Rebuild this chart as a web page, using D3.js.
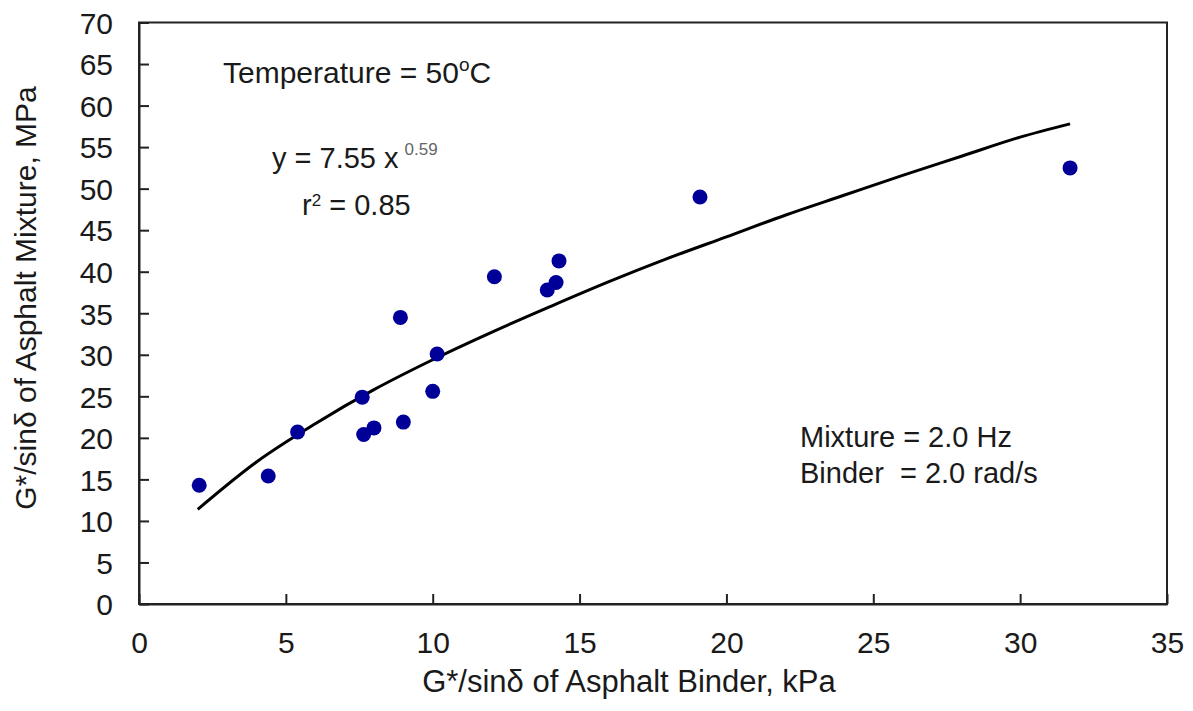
<!DOCTYPE html>
<html>
<head>
<meta charset="utf-8">
<script src="https://cdn.jsdelivr.net/npm/d3@7"></script>
<style>
  body { margin: 0; background: #fff; }
  svg text { font-family: "Liberation Sans", Arial, sans-serif; fill: #1a1a1a; }
</style>
</head>
<body>
<svg id="chart" width="1193" height="711"></svg>
<script>
var binder = [2.05, 4.4, 5.4, 7.6, 7.65, 8.0, 8.9, 9.0, 10.0, 10.15, 12.1, 13.9, 14.2, 14.3, 19.1, 31.7];
var mixture = [14.3, 15.4, 20.7, 24.9, 20.4, 21.2, 34.5, 21.9, 25.6, 30.1, 39.4, 37.8, 38.7, 41.3, 49.0, 52.5];

// power trend line y = 7.55 x^0.59
var fitX = [2, 4, 6, 8, 10, 12, 14, 16, 18, 20, 22, 24, 26, 28, 30, 31.7];
var fitY = [11.4, 17.1, 21.7, 25.8, 29.4, 32.7, 35.8, 38.8, 41.6, 44.2, 46.8, 49.2, 51.6, 53.9, 56.2, 57.8];

var xTicks = [0, 5, 10, 15, 20, 25, 30, 35];
var yTicks = [0, 5, 10, 15, 20, 25, 30, 35, 40, 45, 50, 55, 60, 65, 70];

var svg = d3.select("#chart");
var plotLeft = 139, plotRight = 1167, plotTop = 22.5, plotBottom = 604;

var x = d3.scaleLinear().domain([0, 35]).range([plotLeft, plotRight]);
var y = d3.scaleLinear().domain([0, 70]).range([plotBottom, plotTop]);

// frame
svg.append("rect")
    .attr("x", plotLeft)
    .attr("y", plotTop)
    .attr("width", plotRight - plotLeft)
    .attr("height", plotBottom - plotTop)
    .attr("fill", "none")
    .attr("stroke", "#222")
    .attr("stroke-width", 2);

var xAxis = svg.append("g")
    .attr("transform", "translate(0," + plotBottom + ")")
    .call(d3.axisBottom(x).tickValues(xTicks).tickSizeInner(-10).tickSizeOuter(0).tickPadding(28));

var yAxis = svg.append("g")
    .attr("transform", "translate(" + plotLeft + ",0)")
    .call(d3.axisLeft(y).tickValues(yTicks).tickSizeInner(-10).tickSizeOuter(0).tickPadding(26));

[xAxis, yAxis].forEach(function(a) {
    a.select(".domain").attr("stroke", "#222").attr("stroke-width", 2);
    a.selectAll(".tick line").attr("stroke", "#222").attr("stroke-width", 2);
    a.selectAll(".tick text")
        .attr("font-size", 30)
        .attr("font-family", "Liberation Sans, Arial, sans-serif")
        .attr("fill", "#1a1a1a");
});
xAxis.selectAll(".tick text").attr("dy", "0.71em");
yAxis.selectAll(".tick text").attr("dy", "0.36em");

// axis titles
svg.append("text")
    .attr("x", 629)
    .attr("y", 692)
    .attr("text-anchor", "middle")
    .attr("font-size", 31)
    .text("G*/sin\u03b4 of Asphalt Binder, kPa");

svg.append("text")
    .attr("transform", "translate(36,298) rotate(-90)")
    .attr("text-anchor", "middle")
    .attr("font-size", 30)
    .text("G*/sin\u03b4 of Asphalt Mixture, MPa");

// trend line
var line = d3.line()
    .x(function(d, i) { return x(fitX[i]); })
    .y(function(d, i) { return y(fitY[i]); })
    .curve(d3.curveMonotoneX);

svg.append("path")
    .datum(fitX)
    .attr("d", line)
    .attr("fill", "none")
    .attr("stroke", "#000")
    .attr("stroke-width", 3);

// data points
svg.append("g")
    .selectAll("circle")
    .data(binder)
    .enter().append("circle")
        .attr("cx", function(d) { return x(d); })
        .attr("cy", function(d, i) { return y(mixture[i]); })
        .attr("r", 7.5)
        .attr("fill", "#000099");

// annotations
var temp = svg.append("text")
    .attr("x", 223)
    .attr("y", 83)
    .attr("font-size", 30);
temp.append("tspan").text("Temperature = 50");
temp.append("tspan").attr("font-size", 19).attr("dy", -12).text("o");
temp.append("tspan").attr("dy", 12).text("C");

var eq = svg.append("text")
    .attr("x", 272)
    .attr("y", 168)
    .attr("font-size", 29);
eq.append("tspan").text("y = 7.55 x");
eq.append("tspan").attr("font-size", 17).attr("dx", 6).attr("dy", -13).attr("fill", "#666").text("0.59");

var r2 = svg.append("text")
    .attr("x", 302)
    .attr("y", 215)
    .attr("font-size", 29);
r2.append("tspan").text("r");
r2.append("tspan").attr("font-size", 17).attr("dy", -9).text("2");
r2.append("tspan").attr("dy", 9).text(" = 0.85");

svg.append("text")
    .attr("x", 800)
    .attr("y", 447)
    .attr("font-size", 29)
    .text("Mixture = 2.0 Hz");

svg.append("text")
    .attr("x", 800)
    .attr("y", 483)
    .attr("font-size", 29)
    .attr("xml:space", "preserve")
    .style("white-space", "pre")
    .text("Binder  = 2.0 rad/s");
</script>
</body>
</html>
